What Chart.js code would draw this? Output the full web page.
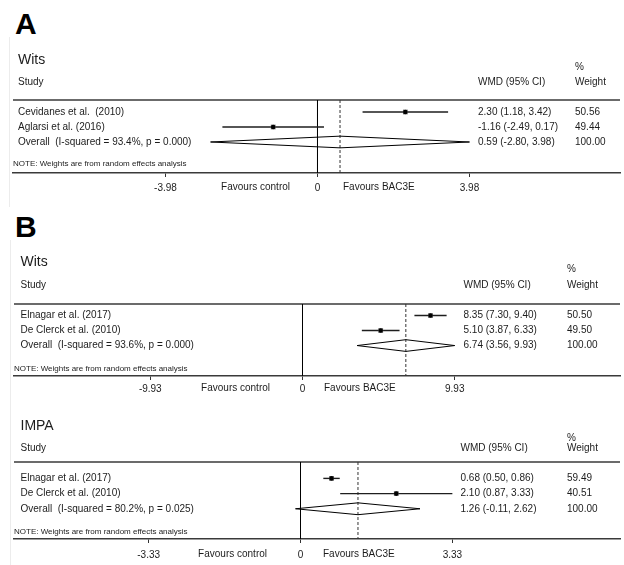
<!DOCTYPE html>
<html>
<head>
<meta charset="utf-8">
<script src="https://cdn.jsdelivr.net/npm/chart.js@4.4.1/dist/chart.umd.min.js"></script>
<style>
  html, body { margin: 0; padding: 0; background: #fff; }
  body { width: 624px; height: 565px; position: relative; overflow: hidden; font-family: "Liberation Sans", Arial, Helvetica, sans-serif; }
  .letter { position: absolute; font-weight: bold; font-size: 30px; line-height: 30px; color: #000; }
  .edge { position: absolute; width: 0; border-left: 1px solid #ececec; }
  canvas { position: absolute; left: 0; }
</style>
</head>
<body>
<div class="letter" style="left:15px; top:9px;">A</div>
<div class="letter" style="left:15px; top:212px;">B</div>
<div class="edge" style="left:9px; top:37px; height:170px;"></div>
<div class="edge" style="left:10px; top:240px; height:325px;"></div>
<canvas id="panelA" width="624" height="155" style="top:40px;"></canvas>
<canvas id="panelBW" width="624" height="154" style="top:244px;"></canvas>
<canvas id="panelBI" width="624" height="159" style="top:402px;"></canvas>
<script>
// ---- A: Wits ----
const aTitle = 'Wits';
const aStudy = ['Cevidanes et al.  (2010)', 'Aglarsi et al. (2016)'];
const aEst = [2.30, -1.16];
const aLow = [1.18, -2.49];
const aHigh = [3.42, 0.17];
const aWeight = [50.56, 49.44];
const aPooled = [0.59, -2.80, 3.98];   // estimate, lower, upper
const aI2 = 93.4;
const aP = 0.000;
const aTick = 3.98;

// ---- B: Wits ----
const bwTitle = 'Wits';
const bwStudy = ['Elnagar et al. (2017)', 'De Clerck et al. (2010)'];
const bwEst = [8.35, 5.10];
const bwLow = [7.30, 3.87];
const bwHigh = [9.40, 6.33];
const bwWeight = [50.50, 49.50];
const bwPooled = [6.74, 3.56, 9.93];
const bwI2 = 93.6;
const bwP = 0.000;
const bwTick = 9.93;

// ---- B: IMPA ----
const biTitle = 'IMPA';
const biStudy = ['Elnagar et al. (2017)', 'De Clerck et al. (2010)'];
const biEst = [0.68, 2.10];
const biLow = [0.50, 0.87];
const biHigh = [0.86, 3.33];
const biWeight = [59.49, 40.51];
const biPooled = [1.26, -0.11, 2.62];
const biI2 = 80.2;
const biP = 0.025;
const biTick = 3.33;

const FONT = '"Liberation Sans", Arial, Helvetica, sans-serif';
const INK = '#1c1c1c';
const RULE = '#3a3a3a';

// Page geometry of each panel (pixels / axis spans only)
const layoutA  = { left: 13, header: 60, bottom: 22, xMin: -7.973, xMax: 7.921, yMin: -0.8, yMax: 4.067,
  nameX: 18, ciX: 478, wX: 575, titleDy: -40, pctDy: -33, studyDy: -18, noteDy: 64, tickPad: 5,
  ctrlRight: 290, favLeft: 343 };
const layoutBW = { left: 14, header: 60, bottom: 22, xMin: -18.82, xMax: 20.71, yMin: -0.77, yMax: 4.03,
  nameX: 20.5, ciX: 463.5, wX: 567, titleDy: -42, pctDy: -35, studyDy: -19, noteDy: 65, tickPad: 3,
  ctrlRight: 270, favLeft: 324 };
const layoutBI = { left: 14, header: 60, bottom: 22, xMin: -6.283, xMax: 7.006, yMin: -1.08, yMax: 3.99,
  nameX: 20.5, ciX: 460.5, wX: 567, titleDy: -36, pctDy: -24, studyDy: -14, noteDy: 70, tickPad: 6,
  ctrlRight: 267, favLeft: 323 };

function ci(e, l, h) {
  return e.toFixed(2) + ' (' + l.toFixed(2) + ', ' + h.toFixed(2) + ')';
}

function drawForest(id, title, study, est, low, high, weight, pooled, i2, p, tick, L) {
  const rows = study.length;
  const datasets = [];

  // null line
  datasets.push({ order: 5, data: [{ x: 0, y: L.yMin }, { x: 0, y: L.yMax }],
    borderColor: '#000', borderWidth: 1, pointRadius: 0 });
  // pooled estimate reference line
  datasets.push({ order: 5, data: [{ x: pooled[0], y: L.yMin }, { x: pooled[0], y: L.yMax }],
    borderColor: '#333', borderWidth: 1, borderDash: [3, 2], pointRadius: 0 });
  // confidence intervals
  for (let i = 0; i < rows; i++) {
    datasets.push({ order: 3, data: [{ x: low[i], y: i }, { x: high[i], y: i }],
      borderColor: '#1e1e1e', borderWidth: 1.4, pointRadius: 0 });
  }
  // weight boxes
  datasets.push({ order: 2, data: est.map((v, i) => ({ x: v, y: i })), showLine: false,
    pointStyle: 'rect', pointRadius: 3.4, backgroundColor: '#7a7a7a', borderWidth: 0 });
  // point estimates (drawn on top)
  datasets.push({ order: 1, data: est.map((v, i) => ({ x: v, y: i })), showLine: false,
    pointStyle: 'circle', pointRadius: 2.3, backgroundColor: '#000', borderWidth: 0 });
  // pooled diamond
  const r = rows, h = 0.39;
  datasets.push({ order: 3, data: [
      { x: pooled[1], y: r }, { x: pooled[0], y: r - h }, { x: pooled[2], y: r },
      { x: pooled[0], y: r + h }, { x: pooled[1], y: r } ],
    borderColor: '#000', borderWidth: 1, pointRadius: 0, fill: false });

  const table = {
    id: 'forestTable',
    beforeDatasetsDraw(chart) {
      const { ctx, chartArea: a } = chart;
      ctx.save();
      ctx.strokeStyle = RULE;
      ctx.lineWidth = 1.5;
      ctx.beginPath();
      ctx.moveTo(a.left, a.top);
      ctx.lineTo(a.right, a.top);
      ctx.stroke();
      ctx.restore();
    },
    afterDraw(chart) {
      const { ctx, chartArea: a, scales } = chart;
      const ys = scales.y, xs = scales.x;
      ctx.save();
      ctx.fillStyle = INK;
      ctx.textBaseline = 'middle';
      ctx.textAlign = 'left';

      ctx.font = '14px ' + FONT;
      ctx.fillText(title, L.nameX, a.top + L.titleDy);
      ctx.font = '10px ' + FONT;
      ctx.fillText('%', L.wX, a.top + L.pctDy);
      ctx.fillText('Study', L.nameX, a.top + L.studyDy);
      ctx.fillText('WMD (95% CI)', L.ciX, a.top + L.studyDy);
      ctx.fillText('Weight', L.wX, a.top + L.studyDy);

      let total = 0;
      for (let i = 0; i < rows; i++) {
        const yy = ys.getPixelForValue(i);
        ctx.fillText(study[i], L.nameX, yy);
        ctx.fillText(ci(est[i], low[i], high[i]), L.ciX, yy);
        ctx.fillText(weight[i].toFixed(2), L.wX, yy);
        total += weight[i];
      }
      const yo = ys.getPixelForValue(rows);
      ctx.fillText('Overall  (I-squared = ' + i2.toFixed(1) + '%, p = ' + p.toFixed(3) + ')', L.nameX, yo);
      ctx.fillText(ci(pooled[0], pooled[1], pooled[2]), L.ciX, yo);
      ctx.fillText(total.toFixed(2), L.wX, yo);

      ctx.font = '8px ' + FONT;
      ctx.fillText('NOTE: Weights are from random effects analysis', a.left, a.top + L.noteDy);

      // direction labels beside the axis
      ctx.font = '10px ' + FONT;
      ctx.textBaseline = 'top';
      const ly = xs.top + 4 + L.tickPad;
      ctx.textAlign = 'right';
      ctx.fillText('Favours control', L.ctrlRight, ly);
      ctx.textAlign = 'left';
      ctx.fillText('Favours BAC3E', L.favLeft, ly);
      ctx.restore();
    }
  };

  new Chart(document.getElementById(id), {
    type: 'line',
    data: { datasets },
    options: {
      responsive: false,
      animation: false,
      devicePixelRatio: 1,
      events: [],
      layout: { padding: { left: L.left, right: 0, top: L.header, bottom: 0 } },
      elements: { line: { tension: 0 } },
      plugins: { legend: { display: false }, tooltip: { enabled: false } },
      scales: {
        x: {
          type: 'linear', position: 'bottom', min: L.xMin, max: L.xMax,
          afterBuildTicks: (s) => { s.ticks = [{ value: -tick }, { value: 0 }, { value: tick }]; },
          afterFit: (s) => { s.height = L.bottom; },
          ticks: {
            autoSkip: false, maxRotation: 0, padding: L.tickPad, color: INK,
            font: { family: FONT, size: 10 },
            callback: (v) => (v === 0 ? '0' : Number(v).toFixed(2))
          },
          grid: { display: true, drawOnChartArea: false, drawTicks: true, tickLength: 4, color: '#333', lineWidth: 1 },
          border: { display: true, color: RULE, width: 1.5 }
        },
        y: { type: 'linear', display: false, reverse: true, min: L.yMin, max: L.yMax }
      }
    },
    plugins: [table]
  });
}

drawForest('panelA', aTitle, aStudy, aEst, aLow, aHigh, aWeight, aPooled, aI2, aP, aTick, layoutA);
drawForest('panelBW', bwTitle, bwStudy, bwEst, bwLow, bwHigh, bwWeight, bwPooled, bwI2, bwP, bwTick, layoutBW);
drawForest('panelBI', biTitle, biStudy, biEst, biLow, biHigh, biWeight, biPooled, biI2, biP, biTick, layoutBI);
</script>
</body>
</html>
